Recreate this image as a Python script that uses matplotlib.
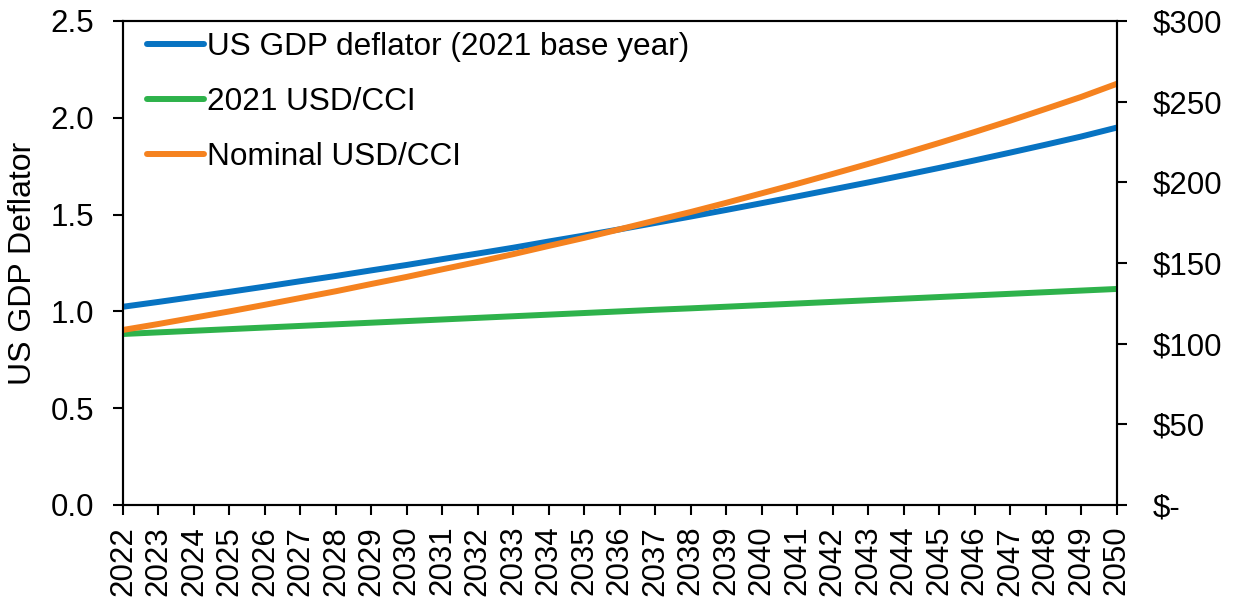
import matplotlib
matplotlib.use("Agg")
import matplotlib.pyplot as plt
from matplotlib.ticker import FuncFormatter, MultipleLocator

years = list(range(2022, 2051))
gdp_deflator = [1.024, 1.049, 1.075, 1.101, 1.128, 1.156, 1.183, 1.212, 1.240, 1.270,
                1.299, 1.329, 1.361, 1.392, 1.424, 1.457, 1.490, 1.524, 1.559, 1.594,
                1.630, 1.666, 1.703, 1.741, 1.780, 1.820, 1.861, 1.903, 1.949]
usd_cci_2021 = [106.0, 107.0, 108.0, 109.0, 110.0, 111.0, 112.0, 113.0, 114.0, 115.0,
                116.0, 117.0, 118.0, 119.0, 120.0, 121.0, 121.9, 122.9, 123.9, 124.9,
                125.9, 126.9, 127.9, 128.9, 129.9, 130.9, 131.9, 132.9, 133.9]
usd_cci_nominal = [108.5, 112.2, 116.1, 120.0, 124.1, 128.3, 132.5, 137.0, 141.4, 146.1,
                   150.7, 155.5, 160.6, 165.6, 170.9, 176.3, 181.6, 187.3, 193.2, 199.1,
                   205.2, 211.4, 217.8, 224.4, 231.2, 238.2, 245.5, 252.9, 261.0]

labels = ["US GDP deflator (2021 base year)", "2021 USD/CCI", "Nominal USD/CCI"]
colors = ["#0773C2", "#2EB24B", "#F5821F"]

plt.rcParams['font.family'] = ['Liberation Sans', 'DejaVu Sans']
FS = 22.5

fig = plt.figure(figsize=(12.36, 5.98), dpi=100)
ax = fig.add_axes([123/1236, 1-505/598, (1116.5-123)/1236, (505-21)/598])
ax2 = ax.twinx()

l1, = ax.plot(years, gdp_deflator, color=colors[0], lw=4.3, solid_capstyle='round', zorder=3)
l2, = ax2.plot(years, usd_cci_2021, color=colors[1], lw=4.3, solid_capstyle='round')
l3, = ax2.plot(years, usd_cci_nominal, color=colors[2], lw=4.3, solid_capstyle='round')

ax.set_xlim(2022, 2050)
ax.set_ylim(0, 2.5)
ax2.set_ylim(0, 300)
ax.yaxis.set_major_locator(MultipleLocator(0.5))
ax.yaxis.set_major_formatter(FuncFormatter(lambda v, p: f"{v:.1f}"))
ax2.yaxis.set_major_locator(MultipleLocator(50))
ax2.yaxis.set_major_formatter(FuncFormatter(lambda v, p: "$-" if abs(v) < 1e-9 else f"${v:.0f}"))
ax.set_xticks(years)
ax.set_xticklabels([str(y) for y in years], rotation=90)

for a in (ax, ax2):
    for s in a.spines.values():
        s.set_linewidth(1.5)
        s.set_color('black')
ax.tick_params(axis='x', direction='out', length=7, width=1.5, labelsize=FS, pad=8)
ax.tick_params(axis='y', direction='out', length=7, width=1.5, labelsize=FS, pad=14)
ax2.tick_params(axis='y', direction='out', length=7, width=1.5, labelsize=FS, pad=19)
ax.set_ylabel("US GDP Deflator", fontsize=23, labelpad=9)

ax2.legend([l1, l2, l3], labels, loc='upper left', bbox_to_anchor=(0.013, 1.0),
           frameon=False, fontsize=22.7, handlelength=1.8, handletextpad=0.1,
           labelspacing=0.8, borderaxespad=0.0, borderpad=0.35)

fig.savefig("out.png", dpi=100)
